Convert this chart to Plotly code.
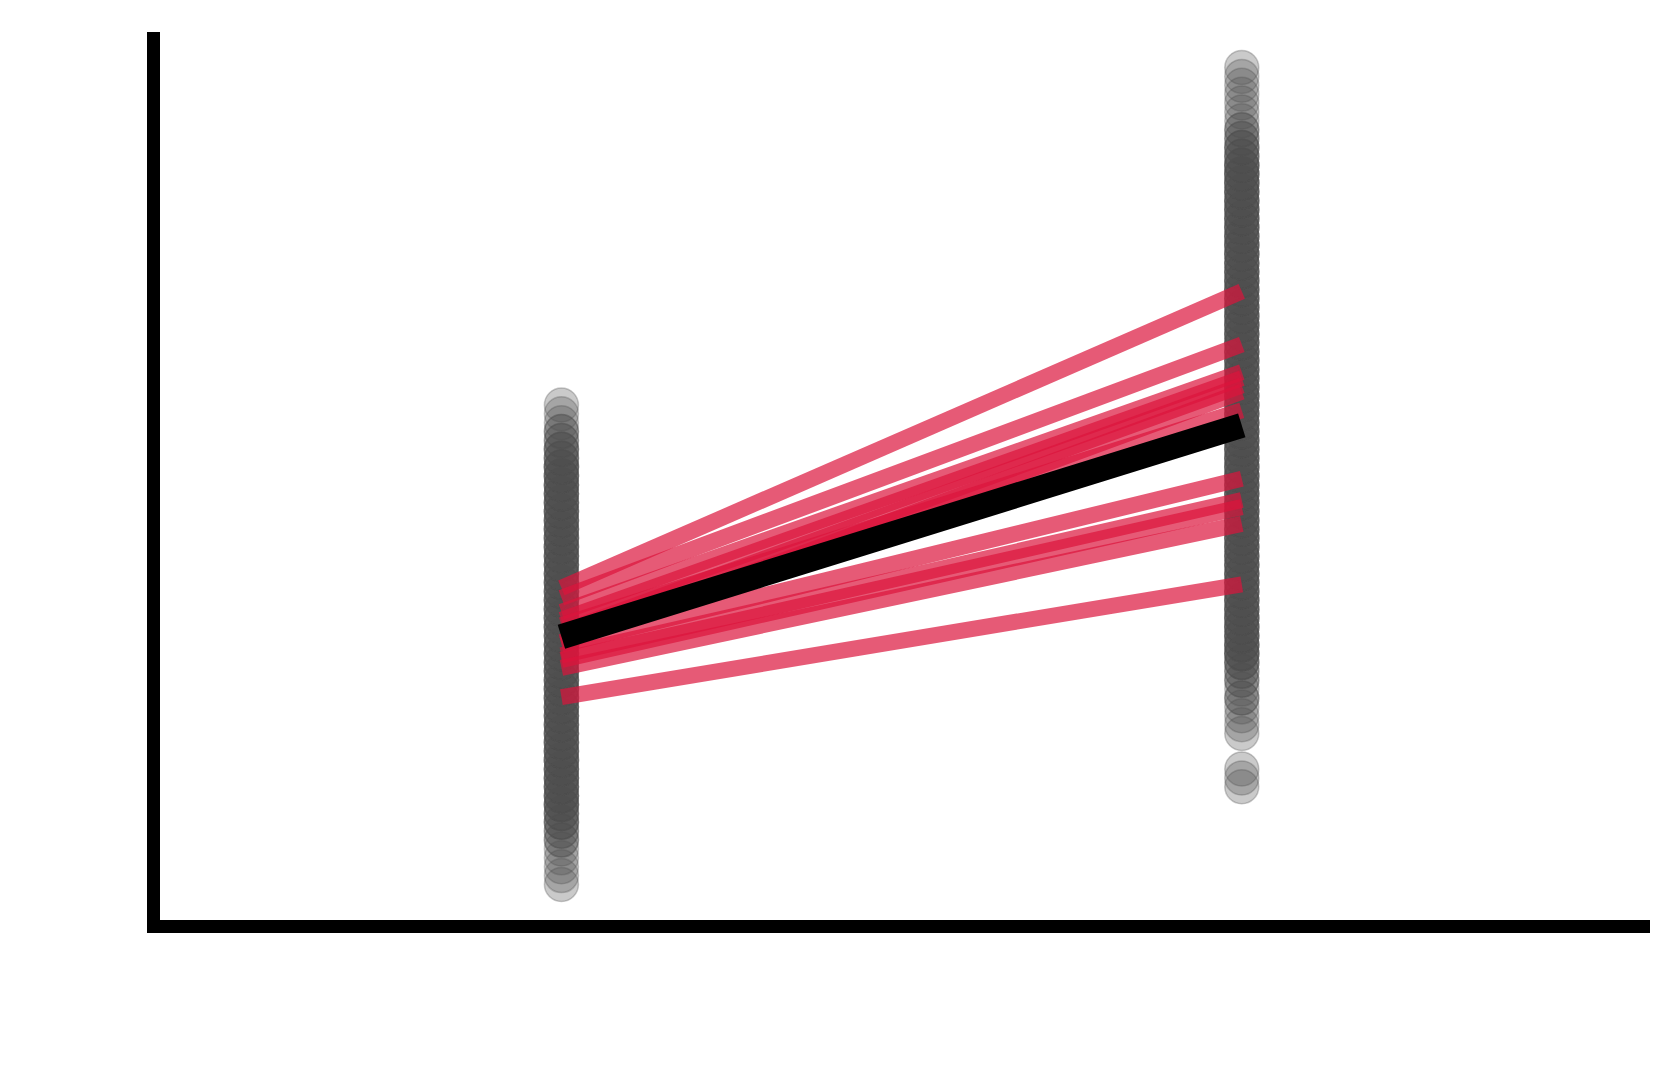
import numpy as np
import plotly.graph_objects as go

# 两组数据：每个值及其重复次数
left_values = [0.4, 0.5, 0.6, 0.7, 0.8, 0.9, 1.0, 1.1, 1.2, 1.3,
               1.4, 1.5, 1.6, 1.7, 1.8, 1.9, 2.0, 2.1, 2.2, 2.3,
               2.4, 2.5, 2.6, 2.7, 2.8, 2.9, 3.0, 3.1, 3.2, 3.3,
               3.4, 3.5, 3.6, 3.7, 3.8, 3.9, 4.0, 4.1, 4.2, 4.3,
               4.4, 4.5, 4.6, 4.7, 4.8, 4.9, 5.0, 5.1, 5.2, 5.3,
               5.4, 5.5, 5.6, 5.7, 5.8]
left_counts = [1, 1, 1, 1, 1, 2, 2, 3, 3, 4,
               4, 4, 4, 4, 4, 4, 4, 4, 4, 4,
               4, 4, 4, 4, 4, 4, 4, 4, 4, 4,
               4, 4, 4, 4, 4, 4, 4, 4, 4, 4,
               4, 4, 4, 4, 4, 4, 4, 4, 3, 3,
               2, 2, 1, 1, 1]

right_values = [1.5, 1.6, 1.7, 2.1, 2.2, 2.3, 2.4, 2.5, 2.6, 2.7,
                2.8, 2.9, 3.0, 3.1, 3.2, 3.3, 3.4, 3.5, 3.6, 3.7,
                3.8, 3.9, 4.0, 4.1, 4.2, 4.3, 4.4, 4.5, 4.6, 4.7,
                4.8, 4.9, 5.0, 5.1, 5.2, 5.3, 5.4, 5.5, 5.6, 5.7,
                5.8, 5.9, 6.0, 6.1, 6.2, 6.3, 6.4, 6.5, 6.6, 6.7,
                6.8, 6.9, 7.0, 7.1, 7.2, 7.3, 7.4, 7.5, 7.6, 7.7,
                7.8, 7.9, 8.0, 8.1, 8.2, 8.3, 8.4, 8.5, 8.6, 8.7,
                8.8, 8.9, 9.0, 9.1, 9.2, 9.3, 9.4, 9.5, 9.6]
right_counts = [1, 1, 1, 1, 1, 1, 1, 2, 1, 2,
                2, 3, 4, 4, 4, 4, 4, 4, 4, 4,
                4, 4, 4, 4, 4, 4, 4, 4, 4, 4,
                4, 4, 4, 4, 4, 4, 4, 4, 4, 4,
                4, 4, 4, 4, 4, 4, 4, 4, 4, 4,
                4, 4, 4, 4, 4, 4, 4, 4, 4, 4,
                4, 4, 4, 4, 4, 4, 4, 4, 3, 3,
                2, 2, 1, 1, 1, 1, 1, 1, 1]

# 配对连线（前 -> 后）
pair_before = [3.74, 3.63, 3.47, 3.38, 3.24, 3.13, 3.32, 3.10, 2.98, 2.93, 2.84, 2.51]
pair_after = [7.08, 6.48, 6.17, 6.10, 6.02, 5.95, 5.74, 4.97, 4.73, 4.65, 4.46, 3.78]

# 均值线
mean_before = 3.19
mean_after = 5.57

gray = "rgba(80,80,80,0.3)"

fig = go.Figure()

for xpos, vals, counts in [(0, left_values, left_counts), (1, right_values, right_counts)]:
    ys = np.repeat(vals, counts)
    fig.add_trace(go.Scatter(
        x=[xpos] * len(ys), y=ys, mode="markers",
        marker=dict(size=34, color=gray, line=dict(color=gray, width=1.5)),
        showlegend=False, hoverinfo="skip"
    ))

for b, a in zip(pair_before, pair_after):
    fig.add_trace(go.Scatter(
        x=[0, 1], y=[b, a], mode="lines",
        line=dict(color="rgba(220,20,60,0.7)", width=16),
        showlegend=False
    ))

fig.add_trace(go.Scatter(
    x=[0, 1], y=[mean_before, mean_after], mode="lines",
    line=dict(color="black", width=25),
    showlegend=False
))

fig.update_layout(
    width=1680, height=1080,
    margin=dict(l=152, r=38, t=24, b=168),
    paper_bgcolor="white", plot_bgcolor="white",
)
fig.update_xaxes(range=[-0.59, 1.60], showline=True, linewidth=13, linecolor="black",
                 showgrid=False, zeroline=False, showticklabels=False, ticks="")
fig.update_yaxes(range=[0, 10], showline=True, linewidth=13, linecolor="black",
                 showgrid=False, zeroline=False, showticklabels=False, ticks="")

fig.write_html("out.html")
